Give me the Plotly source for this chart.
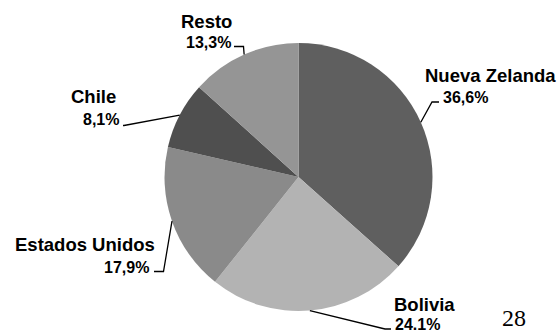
import math
import plotly.graph_objects as go

W, H = 559, 333

paises = ["Nueva Zelanda", "Bolivia", "Estados Unidos", "Chile", "Resto"]
valores = [36.6, 24.1, 17.9, 8.1, 13.3]
etiquetas_pct = ["36,6%", "24.1%", "17,9%", "8,1%", "13,3%"]
colores = ["#5f5f5f", "#b3b3b3", "#8a8a8a", "#4f4f4f", "#959595"]

# pie box in pixels
PX0, PX1, PY0, PY1 = 164, 433, 43, 311
CX, CY = (PX0 + PX1) / 2, (PY0 + PY1) / 2
R = min(PX1 - PX0, PY1 - PY0) / 2

# label layout (pixels): elbow, end of leader, name pos, pct pos, anchor
layout_etq = {
    "Nueva Zelanda": dict(elbow=(432, 102), fin=(439, 102), nombre=(423, 75.5),
                          pct=(441, 97.5), anchor="left"),
    "Bolivia": dict(elbow=(385, 329), fin=(391, 329), nombre=(392, 304),
                    pct=(393, 324), anchor="left"),
    "Estados Unidos": dict(elbow=(163.5, 271.5), fin=(154, 271.5), nombre=(157, 244.5),
                           pct=(151, 267), anchor="right"),
    "Chile": dict(elbow=(124, 125.5), fin=(123, 125.5), nombre=(118, 96.5),
                  pct=(120.5, 119), anchor="right"),
    "Resto": dict(elbow=(243.5, 46.5), fin=(234, 46.5), nombre=(233.5, 21.5),
                  pct=(232.5, 43), anchor="right"),
}


def px(x):
    return x / W


def py(y):
    return 1 - y / H


fig = go.Figure(go.Pie(
    labels=paises, values=valores, sort=False, direction="clockwise", rotation=0,
    marker=dict(colors=colores, line=dict(width=0)),
    textinfo="none", hoverinfo="label+percent", showlegend=False,
    domain=dict(x=[px(PX0), px(PX1)], y=[py(PY1), py(PY0)]),
))

total = sum(valores)
acum = 0
shapes, annots = [], []
for nombre, v, pct in zip(paises, valores, etiquetas_pct):
    medio = (acum + v / 2) / total * 2 * math.pi
    acum += v
    ex, ey = CX + R * math.sin(medio), CY - R * math.cos(medio)
    cfg = layout_etq[nombre]
    (bx, by), (fx, fy) = cfg["elbow"], cfg["fin"]
    shapes.append(dict(
        type="path", xref="paper", yref="paper",
        path=f"M {px(ex)} {py(ey)} L {px(bx)} {py(by)} L {px(fx)} {py(fy)}",
        line=dict(color="black", width=1.3),
    ))
    annots.append(dict(
        text=f"<b>{nombre}</b>", x=px(cfg["nombre"][0]), y=py(cfg["nombre"][1]),
        xref="paper", yref="paper", xanchor=cfg["anchor"], yanchor="middle",
        showarrow=False, font=dict(size=18.5, color="black"),
    ))
    annots.append(dict(
        text=f"<b>{pct}</b>", x=px(cfg["pct"][0]), y=py(cfg["pct"][1]),
        xref="paper", yref="paper", xanchor=cfg["anchor"], yanchor="middle",
        showarrow=False, font=dict(size=16, color="black"),
    ))

# page number
annots.append(dict(
    text="28", x=px(514), y=py(332.5), xref="paper", yref="paper",
    xanchor="center", yanchor="bottom", showarrow=False,
    font=dict(family="Liberation Serif, Times New Roman, serif", size=24, color="black"),
))

fig.update_layout(
    width=W, height=H,
    margin=dict(l=0, r=0, t=0, b=0),
    paper_bgcolor="white", plot_bgcolor="white",
    font=dict(family="Liberation Sans, Arial, sans-serif", color="black"),
    shapes=shapes, annotations=annots,
)

# quitar el margen por defecto del body para que la figura quede en (0, 0)
fig.write_html("out.html", config={"displayModeBar": False},
               post_script="document.body.style.margin='0';")
